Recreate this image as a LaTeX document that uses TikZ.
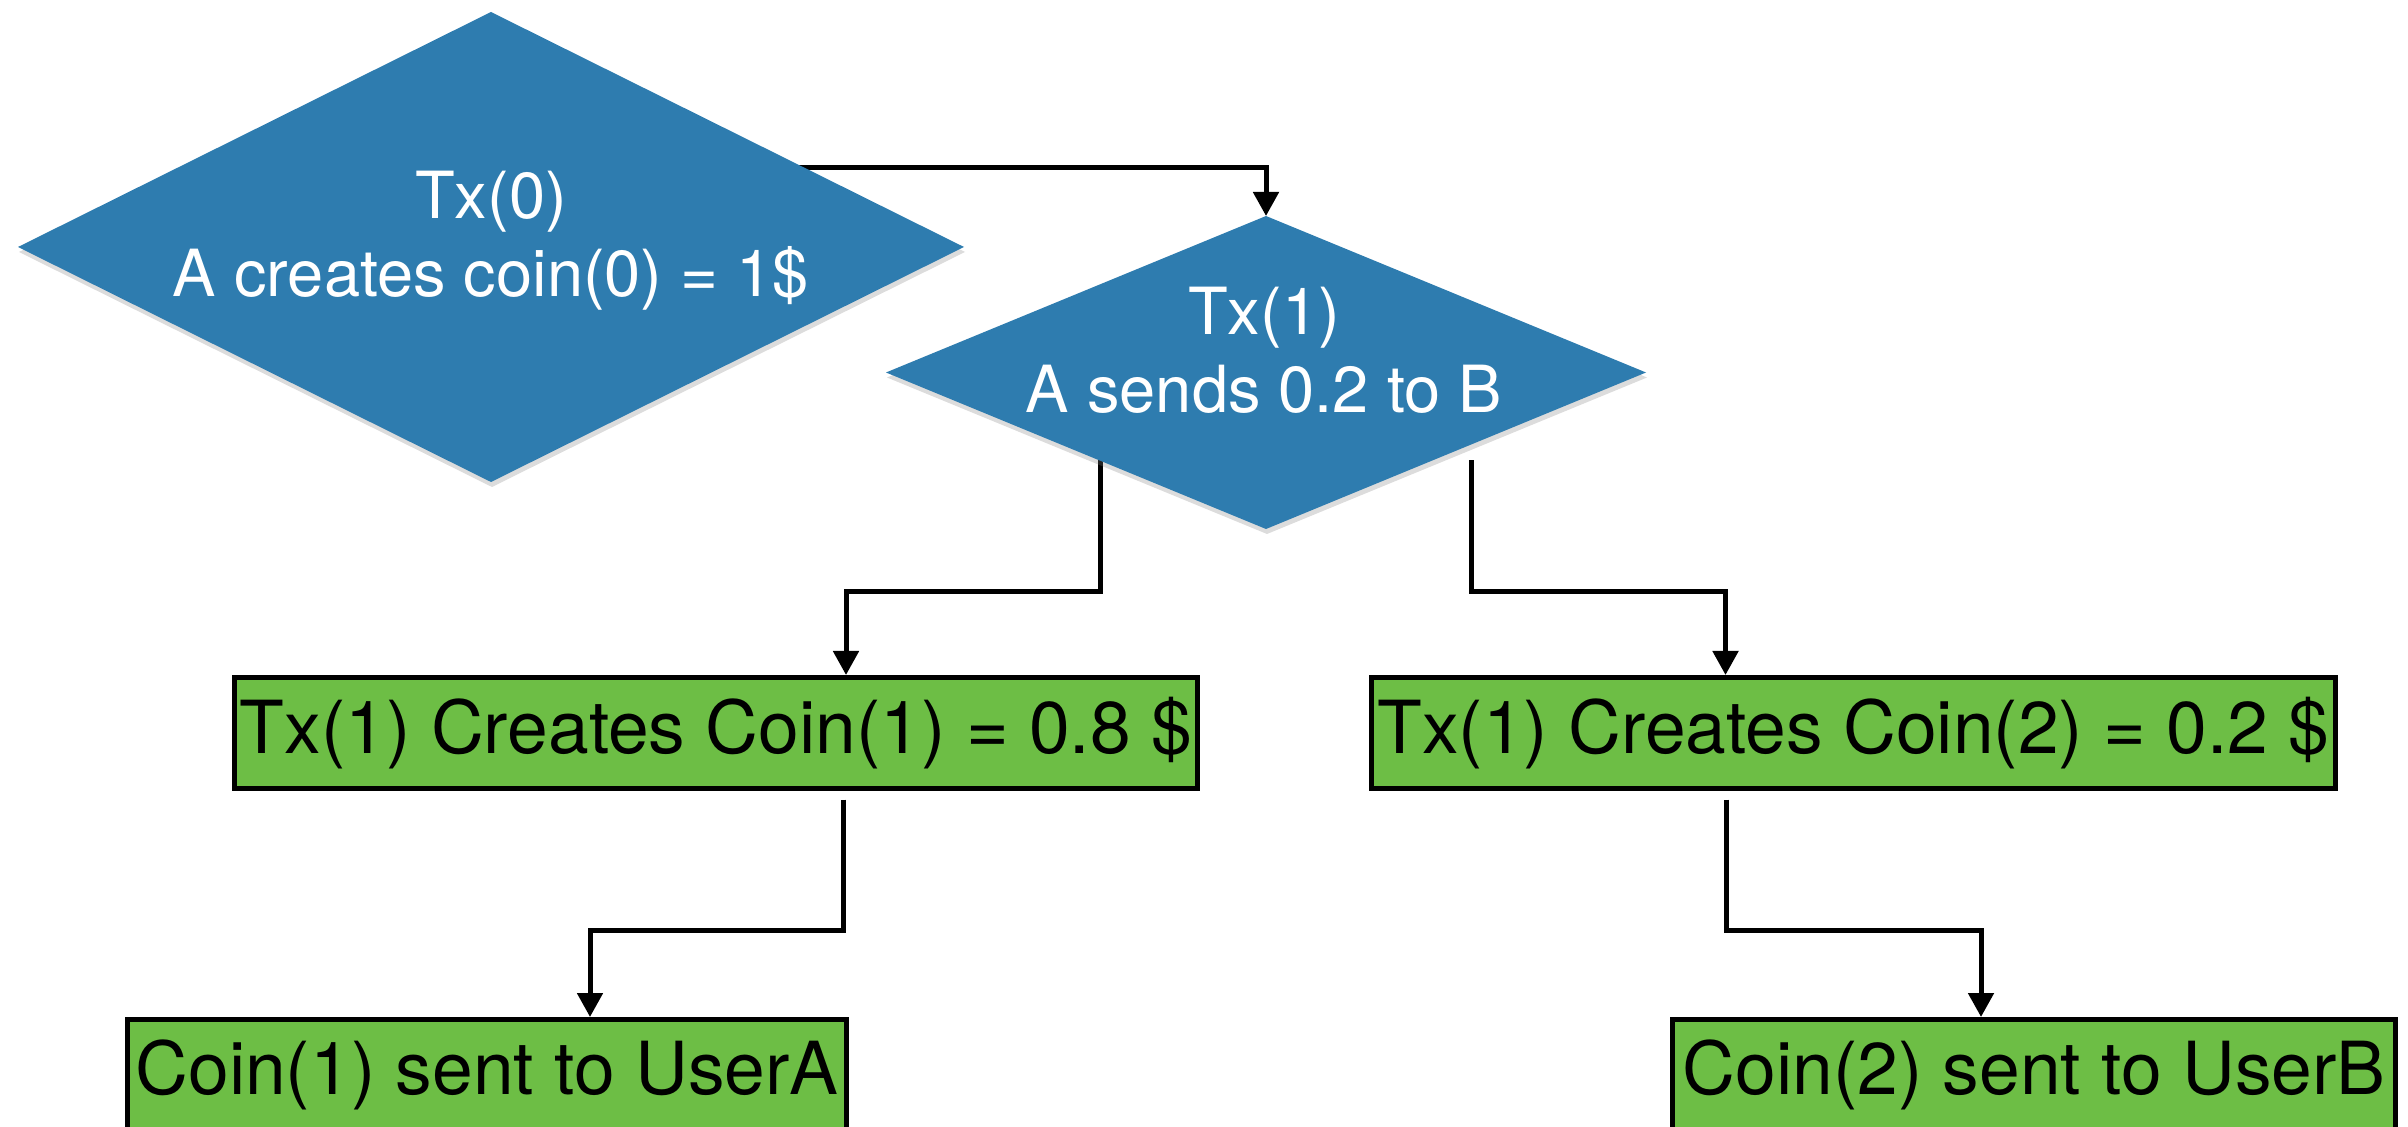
\documentclass[tikz,border=0pt]{standalone}
\usepackage{fontspec}
\setmainfont{TeX Gyre Heros}
\usetikzlibrary{shapes.geometric,arrows.meta,calc,shadows}
\definecolor{txblue}{RGB}{46,124,175}
\definecolor{coingreen}{RGB}{109,190,69}
\pgfdeclarelayer{background}
\pgfsetlayers{background,main}
\tikzset{
  txdiamond/.style={diamond, fill=txblue, inner sep=0pt, outer sep=0pt,
    drop shadow={opacity=0.28, shadow xshift=0.5pt, shadow yshift=-2.5pt}},
  txlabel/.style={text=white, align=center, inner sep=0pt,
    font=\fontsize{32.5}{39}\selectfont},
  coinbox/.style={rectangle, draw=black, line width=2.5pt, fill=coingreen,
    inner sep=0pt, minimum height=55.5pt, font=\fontsize{36.6}{44}\selectfont},
  flow/.style={line width=2.5pt, -{Triangle[length=12pt,width=12.5pt]}}
}
\begin{document}
\begin{tikzpicture}[x=0.5pt,y=-0.5pt]
\useasboundingbox (0,0) rectangle (2408,1127);
\clip (0,0) rectangle (2408,1127);

% transactions
\node[txdiamond, minimum width=473pt, minimum height=235pt] (d0) at (491,247) {};
\node[txlabel] (t0) at ($(d0.center)+(0,-6)$) {Tx(0)\\A creates coin(0) = 1\$};
\node[txdiamond, minimum width=380pt, minimum height=156.5pt] (d1) at (1266,372.5) {};
\node[txlabel] (t1) at ($(d1.center)+(-2,-22)$) {Tx(1)\\A sends 0.2 to B};

% coins
\node[coinbox, minimum width=481.5pt] (ra) at (716,733) {Tx(1) Creates Coin(1) = 0.8 \$};
\node[coinbox, minimum width=482pt] (rb) at (1853.5,733) {Tx(1) Creates Coin(2) = 0.2 \$};
\node[coinbox, minimum width=359.5pt] (rc) at (487,1075) {Coin(1) sent to UserA};
\node[coinbox, minimum width=361.5pt] (rd) at (2034,1075) {Coin(2) sent to UserB};

% connectors, kept behind the shapes
\begin{pgfonlayer}{background}
\draw[flow] ($(d0.center)+(0,-79)$) -| (d1.north);
\draw[flow] ($(d1.center)+(-166,88)$) -- ++(0,131) -| ($(ra.north)+(130,0)$);
\draw[flow] ($(d1.center)+(205,88)$) -- ++(0,131) -| ($(rb.north)+(-128,0)$);
\draw[flow] ($(ra.south)+(127,8.5)$) -- ++(0,131) -| ($(rc.north)+(103,0)$);
\draw[flow] ($(rb.south)+(-127.5,8.5)$) -- ++(0,131) -| ($(rd.north)+(-53,0)$);
\end{pgfonlayer}
\end{tikzpicture}
\end{document}
